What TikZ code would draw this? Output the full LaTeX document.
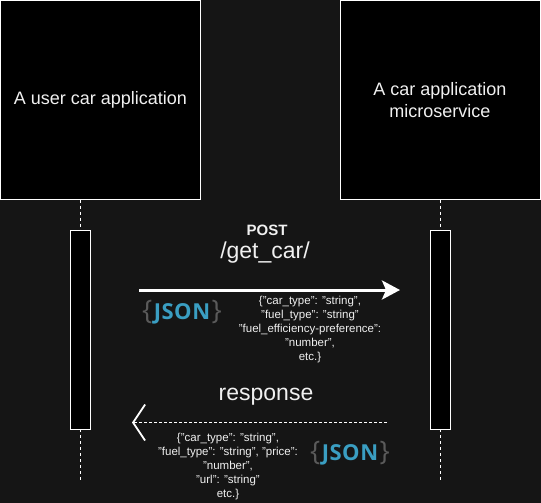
\documentclass[tikz,border=0pt]{standalone}
\usepackage{fontspec}
\setmainfont{Liberation Sans}
\newfontfamily\jsonfont{Open Sans}
\usetikzlibrary{arrows.meta}
\definecolor{bg}{HTML}{151515}
\definecolor{txt}{HTML}{F0F0F0}
\definecolor{jblue}{HTML}{3A9EC2}
\definecolor{jgrey}{HTML}{5A5A5A}
\newcommand{\jsonlogo}{{\color{jgrey}\jsonfont\fontsize{27}{27}\selectfont\{}\kern1.5pt{\color{jblue}\jsonfont\bfseries\fontsize{22}{22}\selectfont J\kern0.5pt S\kern0.5pt O\kern0.5pt N}\kern1.5pt{\color{jgrey}\jsonfont\fontsize{27}{27}\selectfont\}}}
\begin{document}
\begin{tikzpicture}[x=1pt,y=-1pt,
  actor/.style={draw=white,fill=black,line width=1pt,minimum width=200pt,minimum height=199pt,inner sep=0pt,outer sep=0pt,text=txt,align=center,font=\fontsize{18}{21.5}\selectfont},
  actbar/.style={draw=white,fill=black,line width=1pt,minimum width=20pt,minimum height=199pt,inner sep=0pt,outer sep=0pt},
  life/.style={draw=white,line width=1pt,dash pattern=on 3pt off 3pt},
  lbl/.style={text=txt,inner sep=0pt,align=center},
  small/.style={lbl,font=\fontsize{11.5}{14}\selectfont},
  big/.style={lbl,font=\fontsize{23}{26}\selectfont}
]
\fill[bg] (0,0) rectangle (541,503);
\useasboundingbox (0,0) rectangle (541,503);

\node[actor] (ubox) at (100.5,100) {A user car application};
\node[actor] (sbox) at (440,100) {A car application\\microservice};

\node[actbar] (uact) at (80,329.5) {};
\node[actbar] (sact) at (440,329.5) {};

\coordinate (uend) at (80,481);
\coordinate (send) at (440,481);

\draw[life] (ubox.south -| uact.north) -- (uact.north);
\draw[life] (uact.south) -- (uend);
\draw[life] (sbox.south -| sact.north) -- (sact.north);
\draw[life] (sact.south) -- (send);

% request
\node[lbl,font=\bfseries\fontsize{15}{18}\selectfont] (post) at (267,230) {POST};
\node[big] (path) at (265,253) {/get\_car/};
\coordinate (reqS) at (139,290);
\coordinate (reqE) at (400,290);
\draw[white,line width=3pt,-{Stealth[length=18pt,width=19pt,inset=4pt]}] (reqS) -- (reqE);
\node[lbl] (json1) at (182,312) {\jsonlogo};
\node[small] (reqtxt) at (310,330) {\{"car\_type": "string",\\"fuel\_type": "string"\\"fuel\_efficiency-preference":\\"number",\\etc.\}};

% response
\node[big] (resp) at (266,397) {response};
\coordinate (resS) at (387,422.5);
\coordinate (resE) at (132,422.5);
\draw[white,line width=1pt,dash pattern=on 3pt off 2pt,-{Straight Barb[length=12pt,width=36pt,line width=1.8pt]}] (resS) -- (resE);
\node[small] (restxt) at (228,467) {\{"car\_type": "string",\\"fuel\_type": "string", "price":\\"number",\\"url": "string"\\etc.\}};
\node[lbl] (json2) at (350,453) {\jsonlogo};
\end{tikzpicture}
\end{document}
